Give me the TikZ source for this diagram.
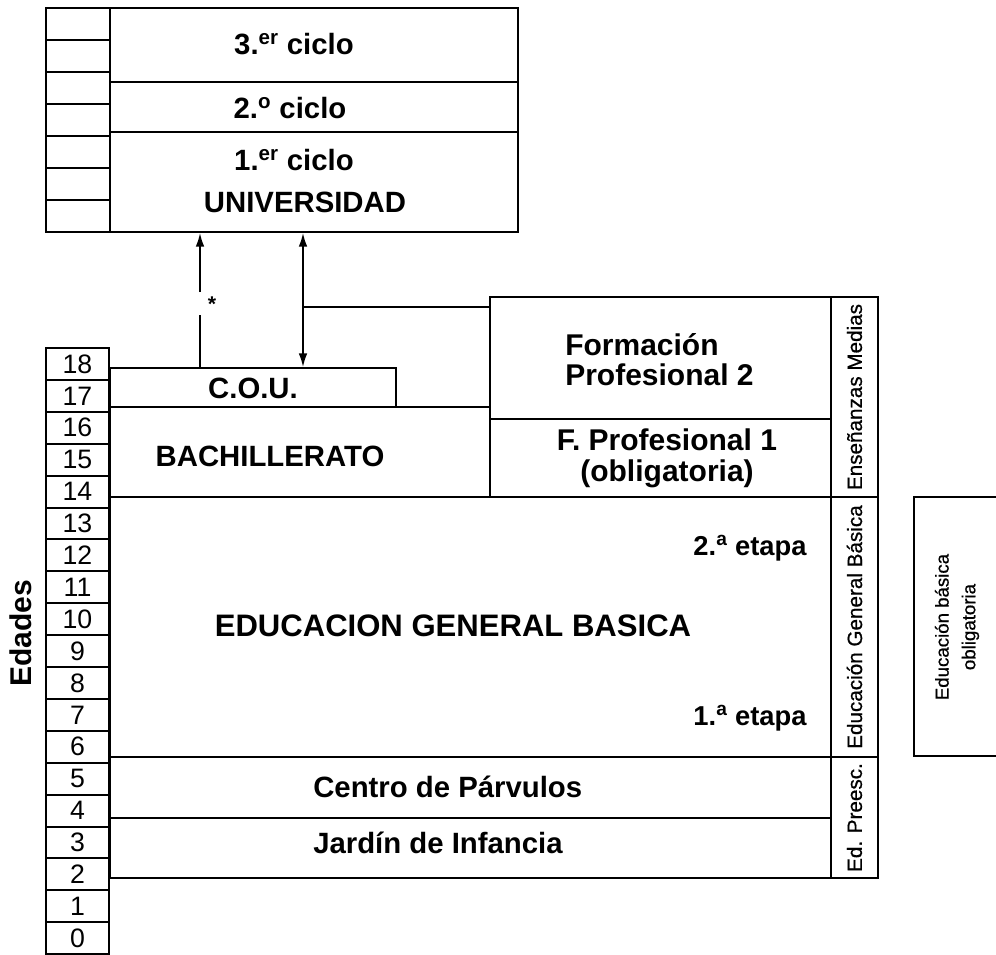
\documentclass[tikz,border=0pt]{standalone}
\usepackage{fontspec}
\setmainfont{Liberation Sans}
\newfontfamily\medfont{Liberation Sans}[FakeBold=0.7]
\usetikzlibrary{arrows.meta}
\newcommand{\mkbox}[5]{\node[frame, minimum width={(#4-#2)*0.75pt}, minimum height={(#5-#3)*0.75pt}] (#1) at ({(#2+#4)/2},{(#3+#5)/2}) {};}
\begin{document}
\begin{tikzpicture}[x=0.75pt,y=-0.75pt,
  frame/.style={draw, line width=1.5pt, inner sep=0pt, outer sep=0pt},
  big/.style={inner sep=0pt, align=center, font=\fontsize{22}{26}\selectfont\bfseries},
  mid/.style={inner sep=0pt, align=center, font=\fontsize{22}{23}\selectfont\bfseries},
  fp/.style={inner sep=0pt, font=\fontsize{22.5}{22.5}\selectfont\bfseries},
  side/.style={inner sep=0pt, rotate=90, font=\fontsize{15.5}{18}\selectfont\medfont},
  agecell/.style={frame, minimum width=47.25pt, minimum height=23.925pt, anchor=north west, font=\fontsize{20}{20}\selectfont},
  conn/.style={line width=2pt},
  >={Latex[length=11pt,width=6.5pt]}
]
\useasboundingbox (0,0) rectangle (996,954);

% age column
\foreach \a in {0,...,18}{
  \pgfmathsetmacro\yt{348+(18-\a)*31.9}
  \node[agecell] (age\a) at (46,\yt) {\a};
}
\node[inner sep=0pt, rotate=90, font=\fontsize{22.5}{26}\selectfont\bfseries] (edades) at (21,633) {Edades};

% university
\foreach \i in {1,...,7}{
  \pgfmathsetmacro\yt{8+(\i-1)*32}
  \node[frame, minimum width=48pt, minimum height=24pt, anchor=north west] (uc\i) at (46,\yt) {};
}
\mkbox{u3}{110}{8}{518}{82}
\mkbox{u2}{110}{82}{518}{132}
\mkbox{u1}{110}{132}{518}{232}
\node[big] (t3) at (294,44) {3.\textsuperscript{er} ciclo};
\node[big] (t2) at (290,108) {2.\textsuperscript{o} ciclo};
\node[big] (t1) at (294,160) {1.\textsuperscript{er} ciclo};
\node[big] (tu) at (305,202) {UNIVERSIDAD};

% secondary
\mkbox{cou}{109.5}{368}{396}{407}
\node[mid] (tcou) at (253,388) {C.O.U.};
\mkbox{bach}{109.5}{407}{490}{497}
\node[big] (tbach) at (270,456) {BACHILLERATO};
\mkbox{fp2}{490}{297}{831}{419}
\node[fp, align=left, anchor=west] (tfp2) at (565,360) {Formación\\Profesional 2};
\mkbox{fp1}{490}{419}{831}{497}
\node[fp, align=center] (tfp1) at (667,458) {F. Profesional 1\\[1pt](obligatoria)};

% basic
\mkbox{egb}{109.5}{497}{831}{757}
\node[inner sep=0pt, font=\fontsize{20.5}{22}\selectfont\bfseries] (e2) at (750,548) {2.\textsuperscript{a} etapa};
\node[inner sep=0pt, font=\fontsize{23.3}{26}\selectfont\bfseries] (tegb) at (453,626) {EDUCACION GENERAL BASICA};
\node[inner sep=0pt, font=\fontsize{20.5}{22}\selectfont\bfseries] (e1) at (750,718) {1.\textsuperscript{a} etapa};
\mkbox{parv}{109.5}{757}{831}{818}
\node[mid, anchor=west] (tparv) at (313,787) {Centro de Párvulos};
\mkbox{jard}{109.5}{818}{831}{878}
\node[mid, anchor=west] (tjard) at (313,843) {Jardín de Infancia};

% side labels
\mkbox{sem}{831}{297}{878}{497}
\node[side] at (sem.center) {Enseñanzas Medias};
\mkbox{segb}{831}{497}{878}{757}
\node[side] at (segb.center) {Educación General Básica};
\mkbox{spre}{831}{757}{878}{878}
\node[side] at (spre.center) {Ed. Preesc.};

% compulsory education box (open to the right)
\mkbox{ebo}{914}{497}{1010}{756}
\node[inner sep=0pt, rotate=90, align=center, font=\fontsize{14}{20}\selectfont\medfont] (tebo) at (957,627) {Educación básica\\obligatoria};

% connectors
\coordinate (dx) at (200,300);
\coordinate (gapLo) at (200,315);
\coordinate (gapHi) at (200,292);
\draw[conn] (dx |- cou.north) -- (gapLo);
\draw[conn, ->] (gapHi) -- (dx |- u1.south);
\node[inner sep=0pt, font=\fontsize{16}{16}\selectfont\bfseries] (star) at (212,304) {*};
\coordinate (sx) at (303,300);
\draw[conn, <->] (sx |- cou.north) -- (sx |- u1.south);
\coordinate (jn) at (303,307);
\draw[conn] (jn) -- (jn -| fp2.west);
\end{tikzpicture}
\end{document}
